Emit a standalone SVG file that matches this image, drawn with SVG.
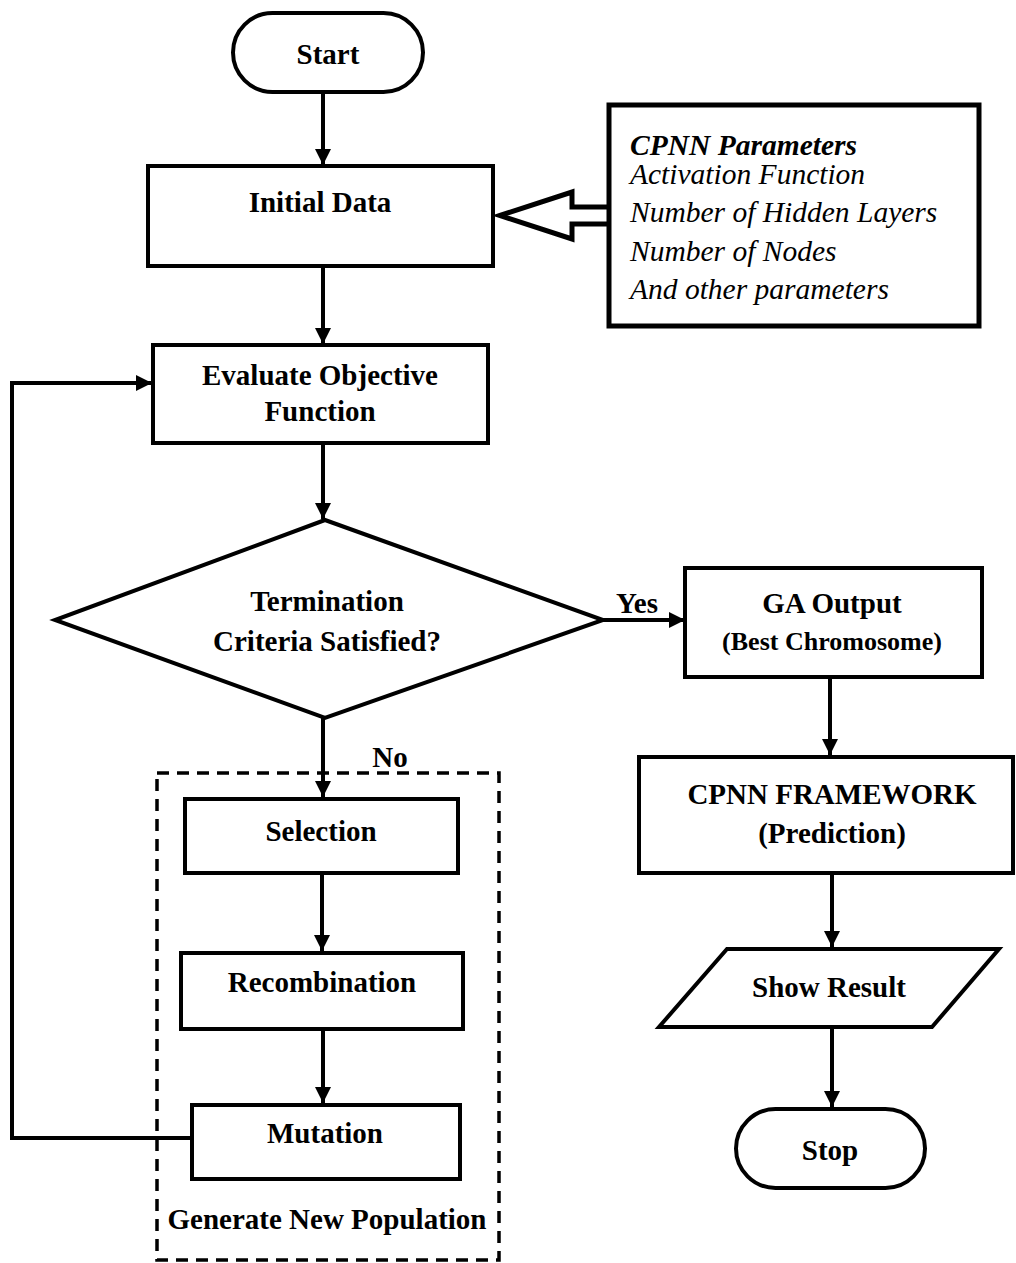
<svg xmlns="http://www.w3.org/2000/svg" width="1016" height="1263" viewBox="0 0 1016 1263">
<style>
.box{fill:#fff;stroke:#000;stroke-width:4}
.thick{fill:#fff;stroke:#000;stroke-width:5}
.dash{fill:none;stroke:#000;stroke-width:3.5;stroke-dasharray:12 8}
.conn{fill:none;stroke:#000;stroke-width:4}
.lbl{font-family:"Liberation Serif","Times New Roman",serif;font-weight:bold;font-size:29px;fill:#000;text-anchor:middle}
.sm{font-size:26px}
.it{font-family:"Liberation Serif","Times New Roman",serif;font-style:italic;font-size:29.5px;fill:#000}
</style>
<defs>
<marker id="ah" markerUnits="userSpaceOnUse" markerWidth="17" markerHeight="17" refX="16" refY="8" orient="auto">
<path d="M0,0 L16,8 L0,16 z" fill="#000"/>
</marker>
</defs>
<rect width="1016" height="1263" fill="#fff"/>

<g id="group-generate">
<rect class="dash" x="157" y="773" width="342" height="487"/>
<text class="lbl" x="327" y="1229">Generate New Population</text>
</g>

<g id="connectors">
<line class="conn" x1="323" y1="92" x2="323" y2="165" marker-end="url(#ah)"/>
<line class="conn" x1="323" y1="266" x2="323" y2="344" marker-end="url(#ah)"/>
<line class="conn" x1="323" y1="443" x2="323" y2="519" marker-end="url(#ah)"/>
<line class="conn" x1="603" y1="620" x2="685" y2="620" marker-end="url(#ah)"/>
<line class="conn" x1="323" y1="718" x2="323" y2="797" marker-end="url(#ah)"/>
<line class="conn" x1="322" y1="873" x2="322" y2="951" marker-end="url(#ah)"/>
<line class="conn" x1="323" y1="1029" x2="323" y2="1103" marker-end="url(#ah)"/>
<polyline class="conn" points="192,1138 12,1138 12,383 152,383" marker-end="url(#ah)"/>
<line class="conn" x1="830" y1="677" x2="830" y2="755" marker-end="url(#ah)"/>
<line class="conn" x1="832" y1="873" x2="832" y2="947" marker-end="url(#ah)"/>
<line class="conn" x1="832" y1="1027" x2="832" y2="1107" marker-end="url(#ah)"/>
<text class="lbl" x="637" y="613">Yes</text>
<text class="lbl" x="390" y="767">No</text>
<polygon class="thick" points="500,215.5 572,192 572,207 610,207 610,224 572,224 572,239"/>
</g>

<g id="start">
<rect class="box" x="233" y="13" width="190" height="79" rx="39.5"/>
<text class="lbl" x="328" y="64">Start</text>
</g>

<g id="initial-data">
<rect class="box" x="148" y="166" width="345" height="100"/>
<text class="lbl" x="320" y="212">Initial Data</text>
</g>

<g id="cpnn-params">
<rect class="thick" x="609" y="105" width="370" height="221"/>
<text class="it" x="630" y="155" font-weight="bold">CPNN Parameters</text>
<text class="it" x="630" y="184">Activation Function</text>
<text class="it" x="630" y="222">Number of Hidden Layers</text>
<text class="it" x="630" y="261">Number of Nodes</text>
<text class="it" x="630" y="299">And other parameters</text>
</g>

<g id="evaluate">
<rect class="box" x="153" y="345" width="335" height="98"/>
<text class="lbl" x="320" y="385">Evaluate Objective</text>
<text class="lbl" x="320" y="421">Function</text>
</g>

<g id="termination">
<polygon class="box" points="325,520 603,620 325,718 55,620"/>
<text class="lbl" x="327" y="611">Termination</text>
<text class="lbl" x="327" y="651">Criteria Satisfied?</text>
</g>

<g id="selection">
<rect class="box" x="185" y="799" width="273" height="74"/>
<text class="lbl" x="321" y="841">Selection</text>
</g>

<g id="recombination">
<rect class="box" x="181" y="953" width="282" height="76"/>
<text class="lbl" x="322" y="992">Recombination</text>
</g>

<g id="mutation">
<rect class="box" x="192" y="1105" width="268" height="74"/>
<text class="lbl" x="325" y="1143">Mutation</text>
</g>

<g id="ga-output">
<rect class="box" x="685" y="568" width="297" height="109"/>
<text class="lbl" x="832" y="613">GA Output</text>
<text class="lbl sm" x="832" y="650">(Best Chromosome)</text>
</g>

<g id="cpnn-framework">
<rect class="box" x="639" y="757" width="374" height="116"/>
<text class="lbl" x="832" y="804">CPNN FRAMEWORK</text>
<text class="lbl" x="832" y="843">(Prediction)</text>
</g>

<g id="show-result">
<polygon class="box" points="727,949 999,949 932,1027 659,1027"/>
<text class="lbl" x="829" y="997">Show Result</text>
</g>

<g id="stop">
<rect class="box" x="736" y="1109" width="189" height="79" rx="39.5"/>
<text class="lbl" x="830" y="1160">Stop</text>
</g>
</svg>
